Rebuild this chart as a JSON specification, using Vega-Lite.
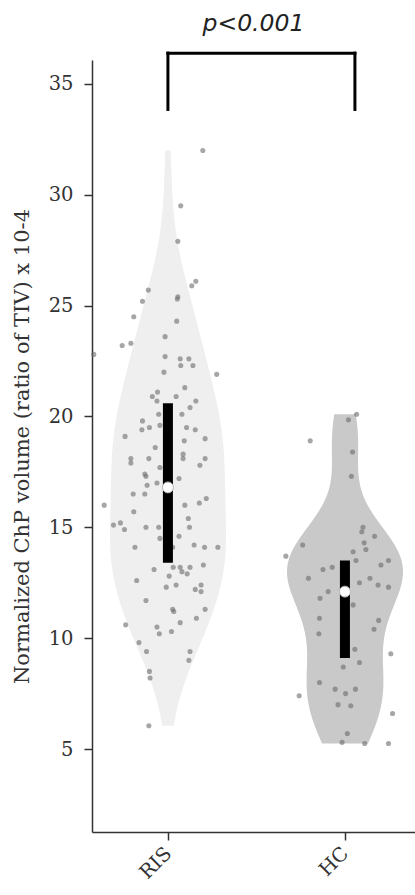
{
  "$schema": "https://vega.github.io/schema/vega-lite/v6.json",
  "width": 323,
  "height": 772,
  "autosize": {"type": "none"},
  "padding": {"left": 92, "top": 60, "right": 0, "bottom": 63},
  "background": "white",
  "title": {
    "text": "p<0.001",
    "font": "DejaVu Sans",
    "fontStyle": "italic",
    "fontWeight": "normal",
    "fontSize": 23.5,
    "color": "#222222",
    "anchor": "middle",
    "baseline": "alphabetic",
    "offset": -3
  },
  "datasets": {
    "obs": [
      {"group": "RIS", "value": 32.0, "jitter": 0.60},
      {"group": "RIS", "value": 29.5, "jitter": 0.22},
      {"group": "RIS", "value": 27.9, "jitter": 0.17},
      {"group": "RIS", "value": 25.9, "jitter": 0.41},
      {"group": "RIS", "value": 26.1, "jitter": 0.48},
      {"group": "RIS", "value": 25.7, "jitter": -0.34},
      {"group": "RIS", "value": 25.3, "jitter": 0.16},
      {"group": "RIS", "value": 25.4, "jitter": 0.17},
      {"group": "RIS", "value": 25.2, "jitter": -0.44},
      {"group": "RIS", "value": 24.5, "jitter": -0.59},
      {"group": "RIS", "value": 24.3, "jitter": 0.15},
      {"group": "RIS", "value": 23.2, "jitter": -0.79},
      {"group": "RIS", "value": 23.3, "jitter": -0.64},
      {"group": "RIS", "value": 22.8, "jitter": -1.28},
      {"group": "RIS", "value": 23.6, "jitter": -0.05},
      {"group": "RIS", "value": 22.7, "jitter": -0.05},
      {"group": "RIS", "value": 22.6, "jitter": 0.21},
      {"group": "RIS", "value": 22.6, "jitter": 0.36},
      {"group": "RIS", "value": 22.3, "jitter": 0.22},
      {"group": "RIS", "value": 22.3, "jitter": 0.43},
      {"group": "RIS", "value": 22.0, "jitter": -0.07},
      {"group": "RIS", "value": 21.9, "jitter": 0.84},
      {"group": "RIS", "value": 21.3, "jitter": 0.29},
      {"group": "RIS", "value": 21.1, "jitter": -0.18},
      {"group": "RIS", "value": 20.9, "jitter": -0.27},
      {"group": "RIS", "value": 20.9, "jitter": 0.14},
      {"group": "RIS", "value": 20.7, "jitter": -0.19},
      {"group": "RIS", "value": 20.7, "jitter": 0.48},
      {"group": "RIS", "value": 20.4, "jitter": 0.38},
      {"group": "RIS", "value": 20.1, "jitter": -0.16},
      {"group": "RIS", "value": 20.1, "jitter": 0.24},
      {"group": "RIS", "value": 19.8, "jitter": -0.44},
      {"group": "RIS", "value": 19.4, "jitter": -0.45},
      {"group": "RIS", "value": 19.5, "jitter": -0.32},
      {"group": "RIS", "value": 19.6, "jitter": -0.14},
      {"group": "RIS", "value": 19.5, "jitter": 0.32},
      {"group": "RIS", "value": 19.4, "jitter": 0.47},
      {"group": "RIS", "value": 19.1, "jitter": -0.74},
      {"group": "RIS", "value": 19.0, "jitter": 0.64},
      {"group": "RIS", "value": 18.9, "jitter": 0.28},
      {"group": "RIS", "value": 18.6, "jitter": -0.22},
      {"group": "RIS", "value": 18.1, "jitter": -0.64},
      {"group": "RIS", "value": 17.9, "jitter": -0.64},
      {"group": "RIS", "value": 18.1, "jitter": -0.33},
      {"group": "RIS", "value": 18.3, "jitter": 0.26},
      {"group": "RIS", "value": 18.1, "jitter": 0.26},
      {"group": "RIS", "value": 18.1, "jitter": 0.64},
      {"group": "RIS", "value": 17.7, "jitter": -0.14},
      {"group": "RIS", "value": 17.8, "jitter": 0.55},
      {"group": "RIS", "value": 17.4, "jitter": -0.40},
      {"group": "RIS", "value": 17.3, "jitter": -0.38},
      {"group": "RIS", "value": 17.2, "jitter": 0.19},
      {"group": "RIS", "value": 17.0, "jitter": -0.19},
      {"group": "RIS", "value": 16.9, "jitter": -0.36},
      {"group": "RIS", "value": 16.5, "jitter": -0.60},
      {"group": "RIS", "value": 16.5, "jitter": -0.40},
      {"group": "RIS", "value": 16.3, "jitter": 0.66},
      {"group": "RIS", "value": 16.0, "jitter": -1.10},
      {"group": "RIS", "value": 16.0, "jitter": 0.29},
      {"group": "RIS", "value": 16.1, "jitter": 0.54},
      {"group": "RIS", "value": 15.7, "jitter": -0.59},
      {"group": "RIS", "value": 15.4, "jitter": 0.35},
      {"group": "RIS", "value": 15.1, "jitter": -0.94},
      {"group": "RIS", "value": 15.2, "jitter": -0.82},
      {"group": "RIS", "value": 14.9, "jitter": -0.75},
      {"group": "RIS", "value": 15.0, "jitter": -0.38},
      {"group": "RIS", "value": 15.0, "jitter": -0.16},
      {"group": "RIS", "value": 15.0, "jitter": 0.37},
      {"group": "RIS", "value": 14.5, "jitter": -0.14},
      {"group": "RIS", "value": 14.6, "jitter": 0.19},
      {"group": "RIS", "value": 14.1, "jitter": -0.57},
      {"group": "RIS", "value": 14.2, "jitter": 0.45},
      {"group": "RIS", "value": 14.1, "jitter": 0.63},
      {"group": "RIS", "value": 14.1, "jitter": 0.86},
      {"group": "RIS", "value": 14.1, "jitter": 0.08},
      {"group": "RIS", "value": 13.1, "jitter": -0.24},
      {"group": "RIS", "value": 13.2, "jitter": 0.09},
      {"group": "RIS", "value": 13.2, "jitter": 0.21},
      {"group": "RIS", "value": 13.2, "jitter": 0.38},
      {"group": "RIS", "value": 13.0, "jitter": 0.24},
      {"group": "RIS", "value": 12.9, "jitter": 0.33},
      {"group": "RIS", "value": 13.3, "jitter": 0.61},
      {"group": "RIS", "value": 12.8, "jitter": 0.02},
      {"group": "RIS", "value": 12.6, "jitter": -0.54},
      {"group": "RIS", "value": 12.3, "jitter": -0.03},
      {"group": "RIS", "value": 12.4, "jitter": 0.14},
      {"group": "RIS", "value": 12.2, "jitter": 0.47},
      {"group": "RIS", "value": 12.4, "jitter": 0.57},
      {"group": "RIS", "value": 12.1, "jitter": 0.57},
      {"group": "RIS", "value": 11.7, "jitter": -0.38},
      {"group": "RIS", "value": 11.3, "jitter": 0.08},
      {"group": "RIS", "value": 11.2, "jitter": 0.10},
      {"group": "RIS", "value": 11.3, "jitter": 0.64},
      {"group": "RIS", "value": 10.9, "jitter": 0.49},
      {"group": "RIS", "value": 10.7, "jitter": 0.21},
      {"group": "RIS", "value": 10.6, "jitter": -0.73},
      {"group": "RIS", "value": 10.5, "jitter": -0.19},
      {"group": "RIS", "value": 10.2, "jitter": -0.15},
      {"group": "RIS", "value": 10.3, "jitter": 0.06},
      {"group": "RIS", "value": 9.8, "jitter": -0.50},
      {"group": "RIS", "value": 9.4, "jitter": -0.37},
      {"group": "RIS", "value": 9.4, "jitter": 0.38},
      {"group": "RIS", "value": 9.0, "jitter": 0.36},
      {"group": "RIS", "value": 8.5, "jitter": -0.32},
      {"group": "RIS", "value": 8.2, "jitter": -0.31},
      {"group": "RIS", "value": 6.05, "jitter": -0.33},
      {"group": "HC", "value": 19.85, "jitter": 0.06},
      {"group": "HC", "value": 20.1, "jitter": 0.20},
      {"group": "HC", "value": 18.9, "jitter": -0.60},
      {"group": "HC", "value": 18.4, "jitter": 0.13},
      {"group": "HC", "value": 17.3, "jitter": 0.11},
      {"group": "HC", "value": 15.0, "jitter": 0.31},
      {"group": "HC", "value": 14.8, "jitter": 0.29},
      {"group": "HC", "value": 14.6, "jitter": 0.51},
      {"group": "HC", "value": 14.2, "jitter": -0.73},
      {"group": "HC", "value": 14.3, "jitter": 0.33},
      {"group": "HC", "value": 14.0, "jitter": 0.36},
      {"group": "HC", "value": 13.9, "jitter": 0.14},
      {"group": "HC", "value": 13.7, "jitter": -1.02},
      {"group": "HC", "value": 13.5, "jitter": 0.19},
      {"group": "HC", "value": 13.5, "jitter": 0.75},
      {"group": "HC", "value": 13.3, "jitter": 0.62},
      {"group": "HC", "value": 13.2, "jitter": -0.22},
      {"group": "HC", "value": 13.1, "jitter": -0.38},
      {"group": "HC", "value": 12.7, "jitter": -0.63},
      {"group": "HC", "value": 12.5, "jitter": 0.25},
      {"group": "HC", "value": 12.7, "jitter": 0.43},
      {"group": "HC", "value": 12.4, "jitter": 0.57},
      {"group": "HC", "value": 12.3, "jitter": 0.75},
      {"group": "HC", "value": 12.1, "jitter": -0.29},
      {"group": "HC", "value": 11.8, "jitter": -0.43},
      {"group": "HC", "value": 11.5, "jitter": 0.14},
      {"group": "HC", "value": 10.9, "jitter": -0.44},
      {"group": "HC", "value": 10.8, "jitter": 0.58},
      {"group": "HC", "value": 10.4, "jitter": 0.50},
      {"group": "HC", "value": 10.2, "jitter": -0.45},
      {"group": "HC", "value": 9.5, "jitter": 0.17},
      {"group": "HC", "value": 9.3, "jitter": 0.79},
      {"group": "HC", "value": 8.9, "jitter": 0.25},
      {"group": "HC", "value": 8.7, "jitter": -0.03},
      {"group": "HC", "value": 8.0, "jitter": -0.44},
      {"group": "HC", "value": 7.7, "jitter": -0.17},
      {"group": "HC", "value": 7.5, "jitter": 0.01},
      {"group": "HC", "value": 7.7, "jitter": 0.18},
      {"group": "HC", "value": 7.4, "jitter": -0.79},
      {"group": "HC", "value": 7.0, "jitter": -0.12},
      {"group": "HC", "value": 6.95, "jitter": 0.10},
      {"group": "HC", "value": 6.6, "jitter": 0.82},
      {"group": "HC", "value": 5.7, "jitter": 0.04},
      {"group": "HC", "value": 5.3, "jitter": -0.05},
      {"group": "HC", "value": 5.25, "jitter": 0.34},
      {"group": "HC", "value": 5.25, "jitter": 0.75}
    ],
    "summary": [
      {"group": "RIS", "q1": 13.4, "median": 16.8, "q3": 20.6},
      {"group": "HC", "q1": 9.1, "median": 12.1, "q3": 13.5}
    ],
    "bracket": [
      {"from": "RIS", "to": "HC", "top": 36.39, "bottom": 33.85}
    ]
  },
  "resolve": {"scale": {"x": "independent"}},
  "layer": [
    {
      "data": {"name": "obs"},
      "transform": [
        {"filter": {"field": "group", "equal": "RIS"}},
        {"density": "value", "groupby": ["group"], "bandwidth": 1.9}
      ],
      "mark": {"type": "area", "orient": "horizontal"},
      "encoding": {
        "y": {"field": "value", "type": "quantitative", "title": "Normalized ChP volume (ratio of TIV) x 10-4", "scale": {"domain": [1.256, 36.08], "nice": false, "zero": false}, "axis": {"values": [5, 10, 15, 20, 25, 30, 35]}},
        "x": {"field": "density", "type": "quantitative", "stack": "center", "impute": null, "scale": {"range": [18, 134], "nice": false, "zero": false}, "axis": null},
        "color": {"field": "group", "type": "nominal", "scale": {"domain": ["RIS", "HC"], "range": ["#efefef", "#c9c9c9"]}, "legend": null}
      }
    },
    {
      "data": {"name": "obs"},
      "transform": [
        {"filter": {"field": "group", "equal": "HC"}},
        {"density": "value", "groupby": ["group"], "bandwidth": 1.55}
      ],
      "mark": {"type": "area", "orient": "horizontal"},
      "encoding": {
        "y": {"field": "value", "type": "quantitative", "title": "Normalized ChP volume (ratio of TIV) x 10-4", "scale": {"domain": [1.256, 36.08], "nice": false, "zero": false}},
        "x": {"field": "density", "type": "quantitative", "stack": "center", "impute": null, "scale": {"range": [195, 311], "nice": false, "zero": false}, "axis": null},
        "color": {"field": "group", "type": "nominal", "scale": {"domain": ["RIS", "HC"], "range": ["#efefef", "#c9c9c9"]}, "legend": null}
      }
    },
    {
      "data": {"name": "obs"},
      "transform": [{"filter": {"field": "group", "equal": "RIS"}}],
      "mark": {"type": "circle", "size": 26, "color": "#6a6a6a", "opacity": 0.6},
      "encoding": {
        "y": {"field": "value", "type": "quantitative", "title": "Normalized ChP volume (ratio of TIV) x 10-4", "scale": {"domain": [1.256, 36.08], "nice": false, "zero": false}},
        "x": {"field": "jitter", "type": "quantitative", "scale": {"domain": [-1, 1], "range": [18, 134], "nice": false, "zero": false}, "axis": null}
      }
    },
    {
      "data": {"name": "obs"},
      "transform": [{"filter": {"field": "group", "equal": "HC"}}],
      "mark": {"type": "circle", "size": 26, "color": "#6a6a6a", "opacity": 0.6},
      "encoding": {
        "y": {"field": "value", "type": "quantitative", "title": "Normalized ChP volume (ratio of TIV) x 10-4", "scale": {"domain": [1.256, 36.08], "nice": false, "zero": false}},
        "x": {"field": "jitter", "type": "quantitative", "scale": {"domain": [-1, 1], "range": [195, 311], "nice": false, "zero": false}, "axis": null}
      }
    },
    {
      "layer": [
        {
          "data": {"name": "summary"},
          "mark": {"type": "rule", "strokeWidth": 10, "color": "#000000"},
          "encoding": {
            "x": {"field": "group", "type": "nominal", "title": null, "scale": {"type": "point", "domain": ["RIS", "HC"], "padding": 0.4124, "align": 0.52}},
            "y": {"field": "q1", "type": "quantitative", "title": "Normalized ChP volume (ratio of TIV) x 10-4", "scale": {"domain": [1.256, 36.08], "nice": false, "zero": false}},
            "y2": {"field": "q3"}
          }
        },
        {
          "data": {"name": "summary"},
          "mark": {"type": "point", "filled": true, "fill": "#ffffff", "stroke": "#b5b5b5", "strokeWidth": 1, "size": 120, "opacity": 1},
          "encoding": {
            "x": {"field": "group", "type": "nominal", "title": null},
            "y": {"field": "median", "type": "quantitative", "title": "Normalized ChP volume (ratio of TIV) x 10-4", "scale": {"domain": [1.256, 36.08], "nice": false, "zero": false}}
          }
        },
        {
          "data": {"name": "bracket"},
          "mark": {"type": "rule", "strokeWidth": 3, "color": "#000000", "strokeCap": "square", "x2Offset": 10},
          "encoding": {
            "x": {"field": "from", "type": "nominal", "title": null},
            "x2": {"field": "to"},
            "y": {"field": "top", "type": "quantitative", "title": "Normalized ChP volume (ratio of TIV) x 10-4", "scale": {"domain": [1.256, 36.08], "nice": false, "zero": false}}
          }
        },
        {
          "data": {"name": "bracket"},
          "mark": {"type": "rule", "strokeWidth": 3, "color": "#000000", "strokeCap": "square"},
          "encoding": {
            "x": {"field": "from", "type": "nominal", "title": null},
            "y": {"field": "top", "type": "quantitative", "title": "Normalized ChP volume (ratio of TIV) x 10-4", "scale": {"domain": [1.256, 36.08], "nice": false, "zero": false}},
            "y2": {"field": "bottom"}
          }
        },
        {
          "data": {"name": "bracket"},
          "mark": {"type": "rule", "strokeWidth": 3, "color": "#000000", "strokeCap": "square", "xOffset": 10},
          "encoding": {
            "x": {"field": "to", "type": "nominal", "title": null},
            "y": {"field": "top", "type": "quantitative", "title": "Normalized ChP volume (ratio of TIV) x 10-4", "scale": {"domain": [1.256, 36.08], "nice": false, "zero": false}},
            "y2": {"field": "bottom"}
          }
        }
      ]
    }
  ],
  "config": {
    "view": {"stroke": null},
    "axis": {
      "grid": false,
      "domainColor": "#333333",
      "domainWidth": 1.5,
      "tickColor": "#333333",
      "tickWidth": 1.5,
      "tickSize": 8,
      "labelColor": "#333333",
      "labelFont": "DejaVu Serif",
      "labelFontSize": 19.5,
      "titleFont": "DejaVu Serif",
      "titleFontSize": 21,
      "titleFontWeight": "normal",
      "titleColor": "#333333"
    },
    "axisY": {"labelPadding": 11, "titlePadding": 16},
    "axisX": {"labelAngle": -45, "labelPadding": 10, "labelAlign": "right", "labelBaseline": "middle"}
  }
}
